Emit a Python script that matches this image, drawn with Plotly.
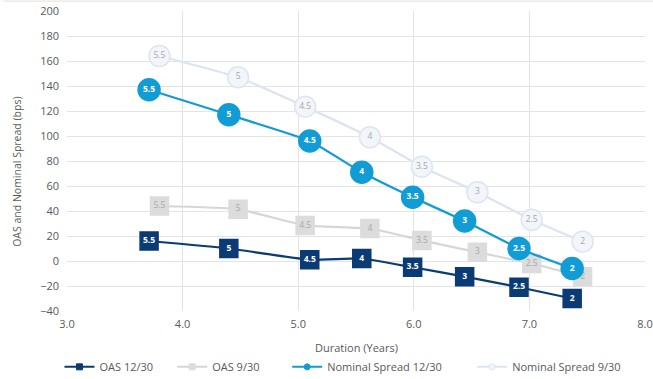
import plotly.graph_objects as go

# Coupon labels shown inside each marker
coupons = ["5.5", "5", "4.5", "4", "3.5", "3", "2.5", "2"]

# Durations (years) for each coupon, by date
duration_1230 = [3.71, 4.40, 5.10, 5.55, 5.99, 6.44, 6.91, 7.37]
duration_0930 = [3.80, 4.48, 5.06, 5.62, 6.07, 6.55, 7.02, 7.46]

# Spreads (bps)
oas_1230 = [16, 10, 1, 2, -5, -12.5, -21, -30]
oas_0930 = [44, 41.5, 28.5, 26, 16.5, 7, -2, -12.5]
nominal_1230 = [137, 117, 96, 71, 51, 32, 10, -6]
nominal_0930 = [164, 147, 123.5, 99, 75.5, 55, 33, 15.5]

x_ticks = [3.0, 4.0, 5.0, 6.0, 7.0, 8.0]
y_ticks = list(range(-40, 201, 20))

FONT = "Open Sans"
AXIS_GREY = "#595959"

fig = go.Figure()

series = [
    dict(name="OAS 12/30", legend="legend", legend_x=-0.013,
         x=duration_1230, y=oas_1230, symbol="square",
         line="#0B3B74", fill="#0B3B74", border="#0B3B74", size=18,
         text_color="white", bold=True),
    dict(name="OAS 9/30", legend="legend2", legend_x=0.182,
         x=duration_0930, y=oas_0930, symbol="square",
         line="#D6D6D6", fill="#DCDCDC", border="#DCDCDC", size=18,
         text_color="#A8A8A8", bold=False),
    dict(name="Nominal Spread 12/30", legend="legend3", legend_x=0.381,
         x=duration_1230, y=nominal_1230, symbol="circle",
         line="#129CD6", fill="#129CD6", border="#129CD6", size=22,
         text_color="white", bold=True),
    dict(name="Nominal Spread 9/30", legend="legend4", legend_x=0.701,
         x=duration_0930, y=nominal_0930, symbol="circle",
         line="#DCE4F1", fill="#F2F5FA", border="#DEE5F1", size=21,
         text_color="#A8A8A8", bold=False),
]

for s in series:
    labels = [f"<b>{c}</b>" if s["bold"] else c for c in coupons]
    fig.add_trace(go.Scatter(
        x=s["x"], y=s["y"], name=s["name"], showlegend=False,
        mode="lines+markers+text",
        text=labels, textposition="middle center",
        textfont=dict(family=FONT, size=8.5, color=s["text_color"]),
        line=dict(color=s["line"], width=2.25, shape="spline", smoothing=0.4),
        marker=dict(symbol=s["symbol"], size=s["size"], color=s["fill"],
                    line=dict(color=s["border"], width=1.5)),
        cliponaxis=False,
    ))

# Legend entries with small markers, one legend box per series
legend_layout = {}
for s in series:
    fig.add_trace(go.Scatter(
        x=[None], y=[None], name=s["name"], mode="lines+markers",
        legend=s["legend"],
        line=dict(color=s["line"], width=2),
        marker=dict(symbol=s["symbol"], size=6, color=s["fill"],
                    line=dict(color=s["border"], width=1)),
    ))
    legend_layout[s["legend"]] = dict(
        orientation="h", x=s["legend_x"], xanchor="left",
        y=0.032, yref="container", yanchor="middle",
        font=dict(size=11, color=AXIS_GREY), itemwidth=30,
        bgcolor="rgba(0,0,0,0)",
    )

fig.update_layout(
    width=653, height=379,
    margin=dict(l=67, r=8, t=11, b=68, autoexpand=False),
    paper_bgcolor="white", plot_bgcolor="white",
    font=dict(family=FONT, size=11, color=AXIS_GREY),
    showlegend=True,
    **legend_layout,
    xaxis=dict(range=[3, 8], tickvals=x_ticks, tickformat=".1f",
               showgrid=True, gridcolor="#E4E4E4", gridwidth=1,
               zeroline=False, showline=False, ticks="",
               ticklabeloverflow="allow", ticklabelstandoff=5,
               tickfont=dict(size=11, color=AXIS_GREY)),
    yaxis=dict(range=[-40, 200], tickvals=y_ticks,
               showgrid=True, gridcolor="#E4E4E4", gridwidth=1,
               zeroline=False, showline=False, ticks="",
               ticklabelstandoff=7,
               tickfont=dict(size=11, color=AXIS_GREY)),
    annotations=[
        dict(text="OAS and Nominal Spread (bps)", textangle=-90,
             xref="paper", yref="paper", x=-0.087, y=0.463,
             xanchor="center", yanchor="middle", showarrow=False,
             font=dict(size=10.5, color=AXIS_GREY)),
        dict(text="Duration (Years)", xref="paper", yref="paper", x=0.5, y=-0.12,
             xanchor="center", yanchor="middle", showarrow=False,
             font=dict(size=11, color=AXIS_GREY)),
    ],
    shapes=[dict(type="line", xref="paper", yref="paper", x0=-0.11, x1=1.02,
                 y0=1.033, y1=1.033, line=dict(color="#E0E0E0", width=1))],
)

fig.write_html("out.html")
